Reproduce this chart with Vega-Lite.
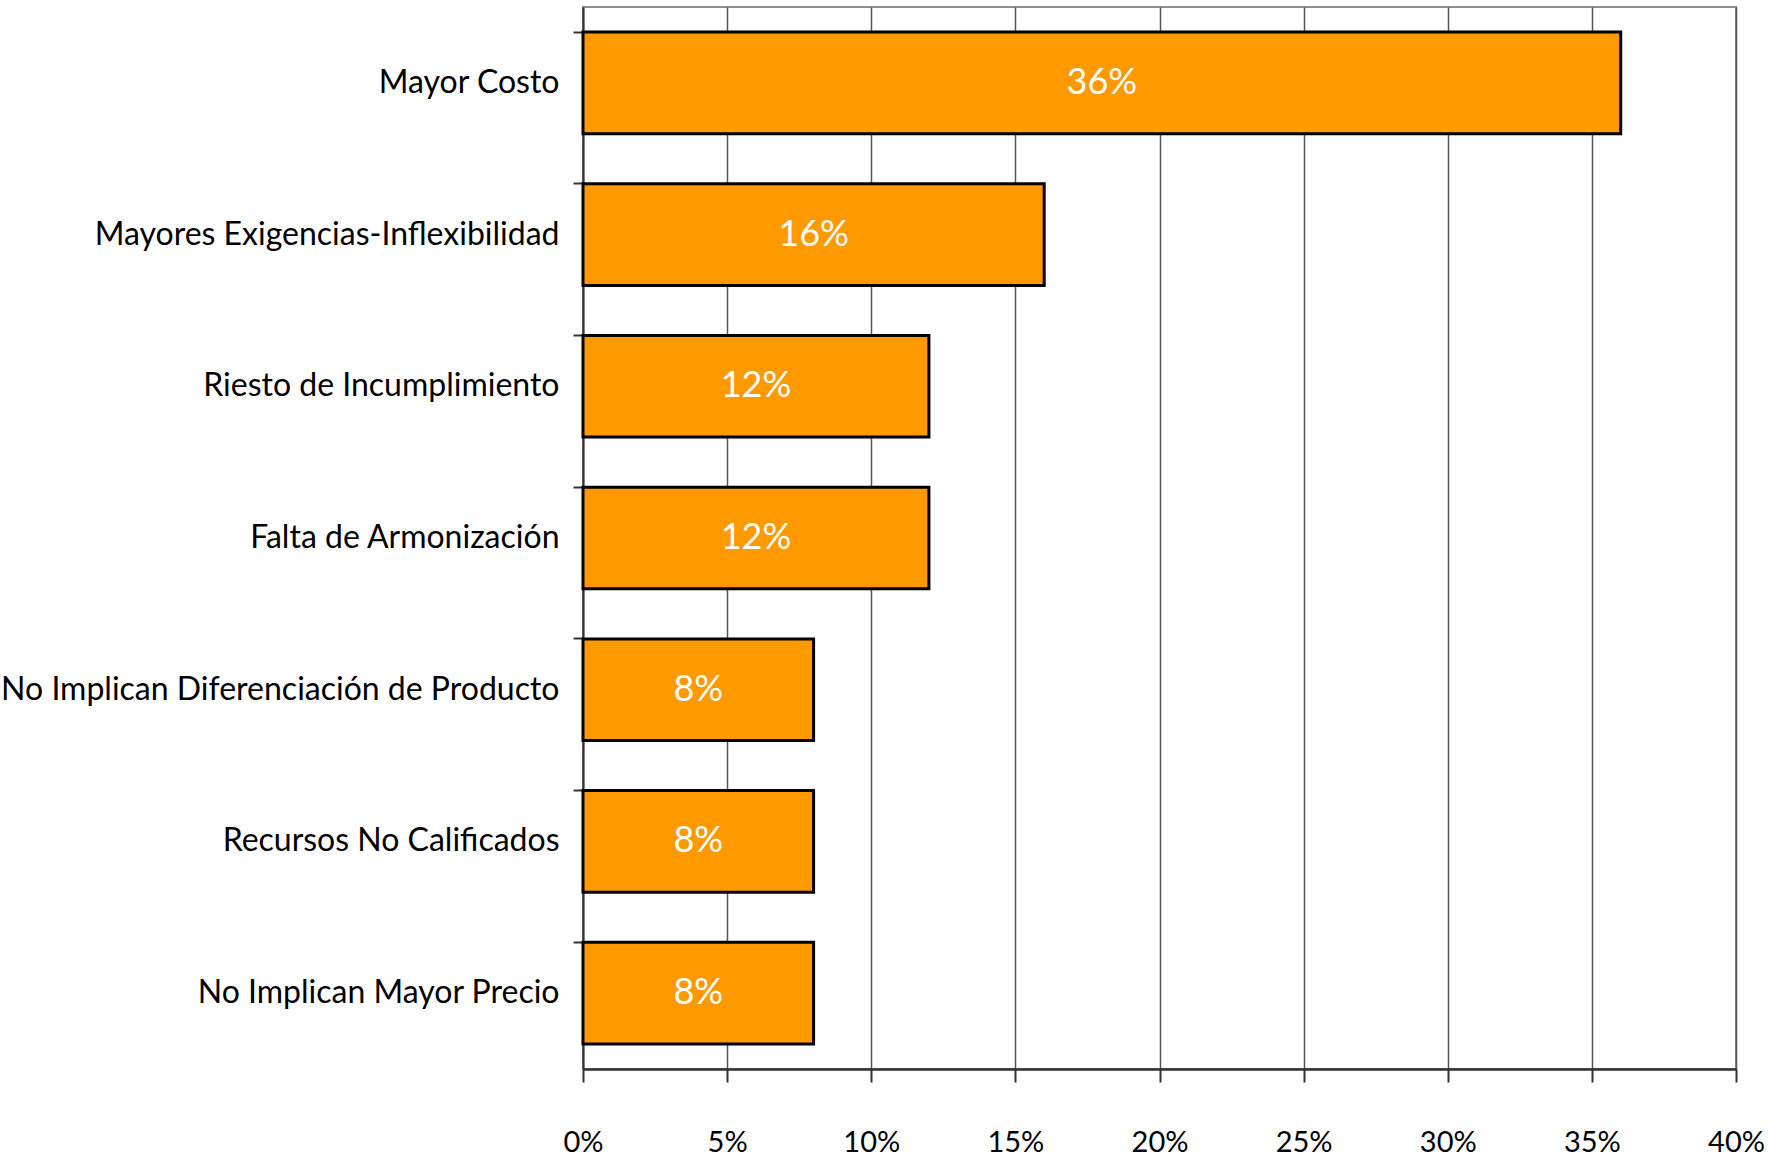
{
  "$schema": "https://vega.github.io/schema/vega-lite/v6.json",
  "autosize": {"type": "none"},
  "width": 1153,
  "height": 1062,
  "padding": {"left": 583, "top": 7, "right": 32, "bottom": 99},
  "background": "white",
  "config": {
    "view": {"stroke": "#8c8c8c", "strokeWidth": 2},
    "font": "Lato"
  },
  "data": {
    "values": [
      {"cat": "Mayor Costo", "v": 0.36},
      {"cat": "Mayores Exigencias-Inflexibilidad", "v": 0.16},
      {"cat": "Riesto de Incumplimiento", "v": 0.12},
      {"cat": "Falta de Armonización", "v": 0.12},
      {"cat": "No Implican Diferenciación de Producto", "v": 0.08},
      {"cat": "Recursos No Calificados", "v": 0.08},
      {"cat": "No Implican Mayor Precio", "v": 0.08}
    ]
  },
  "encoding": {
    "y": {
      "field": "cat", "type": "nominal", "sort": null,
      "scale": {"paddingInner": 0.33, "paddingOuter": 0.165},
      "axis": {
        "title": null, "bandPosition": 0, "tickSize": 10, "tickColor": "#333", "tickWidth": 2,
        "domainColor": "#333", "domainWidth": 2, "labelFontSize": 32, "labelColor": "#000",
        "labelPadding": 14, "labelFont": "Lato", "labelLimit": 700, "grid": false
      }
    }
  },
  "layer": [
    {
      "mark": {"type": "bar", "fill": "#FF9900", "stroke": "#000", "strokeWidth": 3},
      "encoding": {
        "x": {
          "field": "v", "type": "quantitative",
          "scale": {"domain": [0, 0.4], "nice": false},
          "axis": {
            "title": null, "format": ".0%", "values": [0, 0.05, 0.1, 0.15, 0.2, 0.25, 0.3, 0.35, 0.4],
            "grid": true, "gridColor": "#555", "gridWidth": 1.5,
            "tickSize": 13, "tickColor": "#333", "tickWidth": 2,
            "domainColor": "#333", "domainWidth": 2.5, "labelFlush": false, "labelOverlap": false,
            "labelFontSize": 29, "labelColor": "#000", "labelPadding": 46, "labelFont": "Lato"
          }
        }
      }
    },
    {
      "mark": {"type": "text", "color": "white", "fontSize": 36, "font": "Lato"},
      "transform": [{"calculate": "datum.v / 2", "as": "mid"}],
      "encoding": {
        "x": {"field": "mid", "type": "quantitative"},
        "text": {"field": "v", "type": "quantitative", "format": ".0%"}
      }
    }
  ]
}
